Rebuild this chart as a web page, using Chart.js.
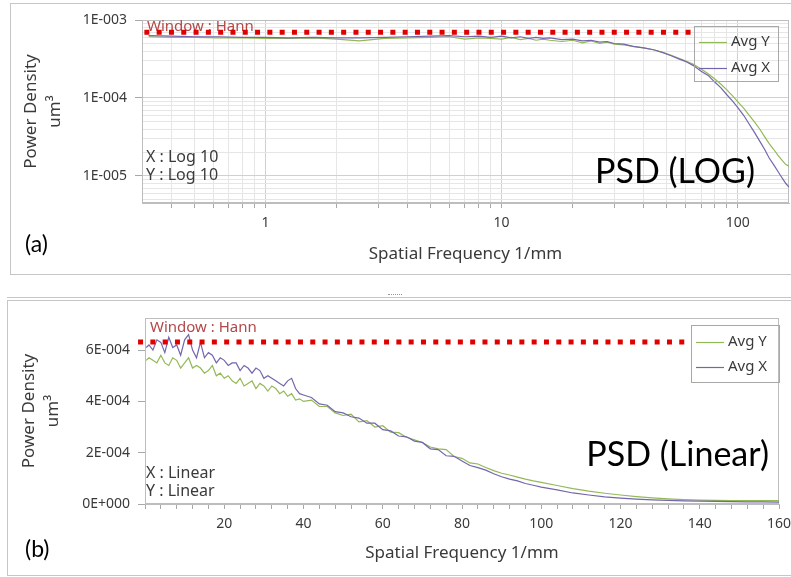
<!DOCTYPE html>
<html>
<head>
<meta charset="utf-8">
<script src="https://cdn.jsdelivr.net/npm/chart.js@4.4.0/dist/chart.umd.min.js"></script>
<style>
  body { margin: 0; background: #fff; width: 791px; height: 577px; position: relative; overflow: hidden; }
  .frame { position: absolute; border: 1px solid #c6c6c6; box-sizing: border-box; }
  .split { position: absolute; left: 388px; top: 294px; width: 14px; border-top: 1px dotted #999; }
  canvas { position: absolute; left: 0; }
</style>
</head>
<body>
<div class="frame" style="left:10px;top:3px;width:790px;height:272px;"></div>
<div class="frame" style="left:7px;top:297px;width:795px;height:4px;border-bottom:none;border-left:none;"></div>
<div class="frame" style="left:7px;top:300px;width:795px;height:276px;"></div>
<div class="split"></div>
<canvas id="logChart" width="791" height="280" style="top:0"></canvas>
<canvas id="linChart" width="791" height="287" style="top:290px"></canvas>
<script>
// Panel (a): log-log PSD, values in units of 1e-4 um^3
const logFreq = [0.32, 0.4, 0.5, 0.63, 0.8, 1, 1.25, 1.6, 2, 2.5, 3.2, 4,
  5, 6, 7, 8, 9, 10, 11, 12, 13, 14, 15, 16,
  18, 20, 22, 24, 26, 28, 30,
  33, 36, 40, 44, 48, 52, 56, 60,
  65, 70, 75, 80, 85, 90, 95, 100,
  106, 112, 118, 124, 130, 136, 142, 148, 154, 160, 165];
const logAvgY = [6.1, 6.0, 6.0, 5.9, 5.9, 5.8, 5.8, 5.9, 5.7, 5.4, 5.8, 5.9,
  6.0, 6.1, 5.7, 5.9, 5.8, 5.7, 6.0, 5.6, 5.8, 5.5, 5.7, 5.5,
  5.3, 5.5, 5.1, 5.4, 5.0, 5.2, 4.9,
  4.8, 4.6, 4.4, 4.15, 3.85, 3.55, 3.25, 3.0,
  2.7, 2.35, 2.05, 1.75, 1.5, 1.27, 1.07, 0.9,
  0.74, 0.6, 0.49, 0.4, 0.32, 0.26, 0.22, 0.185, 0.16, 0.14, 0.133];
const logAvgX = [6.3, 6.2, 6.1, 6.1, 6.0, 6.0, 5.9, 6.0, 5.9, 5.9, 6.0, 6.1,
  6.2, 6.3, 6.1, 6.2, 6.0, 6.2, 5.9, 6.1, 5.8, 6.0, 5.8, 5.9,
  5.6, 5.7, 5.4, 5.5, 5.2, 5.3, 5.0,
  4.9, 4.6, 4.4, 4.15, 3.85, 3.5, 3.2, 2.95,
  2.6, 2.2, 1.95, 1.6, 1.35, 1.1, 0.92, 0.76,
  0.6, 0.46, 0.36, 0.28, 0.22, 0.17, 0.14, 0.115, 0.095, 0.08, 0.072];
const logGridX = [0.4, 0.5, 0.6, 0.7, 0.8, 0.9, 1, 2, 3, 4, 5, 6, 7, 8, 9,
  10, 20, 30, 40, 50, 60, 70, 80, 90, 100];
const logLabelX = [1, 10, 100];
const logGridY = [5e-6, 6e-6, 7e-6, 8e-6, 9e-6, 1e-5, 2e-5, 3e-5, 4e-5, 5e-5, 6e-5, 7e-5, 8e-5, 9e-5,
  1e-4, 2e-4, 3e-4, 4e-4, 5e-4, 6e-4, 7e-4, 8e-4, 9e-4, 1e-3];
const logTickY = [1e-5, 1e-4, 1e-3];
const logTickYLabels = ['1E-005', '1E-004', '1E-003'];
const hannLogX = [0.307, 65];
const hannLogY = 6.95e-4;

// Panel (b): linear PSD, values in units of 1e-4 um^3
const linFreq = [0.3, 1, 2, 3, 4, 5, 6, 7, 8, 9, 10, 11, 12, 13, 14, 15, 16, 17, 18, 19, 20,
  21, 22, 23, 24, 25, 26, 27, 28, 29, 30, 31, 32, 33, 34, 35, 36, 37, 38, 39, 40,
  42, 44, 46, 48, 50, 52, 54, 56, 58, 60, 62, 64, 66, 68, 70, 72, 74, 76, 78, 80,
  82, 84, 86, 88, 90, 92, 94, 96, 98, 100,
  104, 108, 112, 116, 120, 124, 128, 132, 136, 140, 144, 148, 152, 156, 160];
const linAvgY = [5.6, 5.7, 5.6, 5.5, 5.8, 5.5, 5.4, 5.7, 5.6, 5.3, 5.5, 5.7, 5.3, 5.4, 5.3, 5.1, 5.2, 5.4, 5.0, 5.1, 4.9,
  5.0, 4.8, 4.7, 4.9, 4.6, 4.7, 4.8, 4.5, 4.7, 4.6, 4.4, 4.6, 4.5, 4.3, 4.4, 4.2, 4.3, 4.05, 4.1, 4.0,
  4.05, 3.8, 3.8, 3.55, 3.45, 3.5, 3.2, 3.25, 3.0, 3.05, 2.8, 2.78, 2.6, 2.5, 2.4, 2.22, 2.15, 2.12, 1.85, 1.78,
  1.6, 1.56, 1.42, 1.3, 1.2, 1.13, 1.05, 0.97, 0.9, 0.84,
  0.72, 0.6, 0.5, 0.42, 0.35, 0.29, 0.24, 0.2, 0.17, 0.15, 0.14, 0.135, 0.13, 0.13, 0.13];
const linAvgX = [6.1, 6.2, 6.0, 6.4, 6.3, 5.9, 6.5, 6.1, 6.2, 5.8, 6.4, 6.6, 6.0, 5.7, 6.3, 5.7, 5.9, 5.8, 5.5, 5.7, 5.6,
  5.4, 5.5, 5.5, 5.2, 5.4, 5.3, 5.1, 5.3, 5.2, 4.9, 5.0, 4.9, 4.8, 4.7, 4.6, 4.8, 4.9, 4.5, 4.3, 4.25,
  4.15, 3.9, 3.85, 3.6, 3.55, 3.4, 3.35, 3.15, 3.15, 2.9, 2.85, 2.65, 2.62, 2.45, 2.4, 2.15, 2.12, 1.88, 1.86, 1.68,
  1.5, 1.42, 1.32, 1.18, 1.06, 0.97, 0.9, 0.8, 0.73, 0.66,
  0.55, 0.43, 0.35, 0.28, 0.23, 0.19, 0.16, 0.14, 0.12, 0.11, 0.1, 0.09, 0.085, 0.08, 0.075];
const linLabelX = [20, 40, 60, 80, 100, 120, 140, 160];
const linTickY = [0, 2e-4, 4e-4, 6e-4];
const linTickYLabels = ['0E+000', '2E-004', '4E-004', '6E-004'];
const hannLinX = [-1.75, 136.5];
const hannLinY = 6.31e-4;

const UNIT = 1e-4;
const GREEN = '#93b957';
const PURPLE = '#7466ad';
const RED = '#e00000';
const FRAME = '#bdbdbd';
const TXT = '#3a3a3a';
const SANS = "'Noto Sans', sans-serif";

function pts(xs, ys, k) {
  return xs.map((x, i) => ({ x: x, y: ys[i] * k }));
}

function hannSet(xs, y) {
  return {
    label: 'hann', data: [{ x: xs[0], y: y }, { x: xs[1], y: y }],
    borderColor: RED, borderWidth: 5, borderDash: [5, 7.3], borderCapStyle: 'butt',
    pointRadius: 0, clip: false
  };
}

function curve(label, data, color) {
  return { label: label, data: data, borderColor: color, borderWidth: 1.2, pointRadius: 0, tension: 0 };
}

// frame, notes and legend drawn on top of the chart
const deco = {
  id: 'deco',
  beforeDatasetsDraw(chart, args, o) {
    const ctx = chart.ctx, a = chart.chartArea;
    ctx.save();
    ctx.strokeStyle = FRAME;
    ctx.lineWidth = 1;
    ctx.strokeRect(Math.round(a.left) + 0.5, Math.round(a.top) + 0.5,
      Math.round(a.right - a.left) - 1, Math.round(a.bottom - a.top) - 1);
    ctx.font = '15px ' + SANS;
    ctx.fillStyle = '#b24848';
    ctx.textBaseline = 'middle';
    ctx.fillText('Window : Hann', a.left + 5, o.hannTextY);
    ctx.restore();
  },
  afterDraw(chart, args, o) {
    const ctx = chart.ctx;
    ctx.save();
    ctx.textBaseline = 'middle';
    o.texts.forEach(t => {
      ctx.font = t.font;
      ctx.fillStyle = t.color || TXT;
      ctx.textAlign = t.align || 'left';
      ctx.fillText(t.text, t.x, t.y);
    });
    // legend box
    const L = o.legend;
    ctx.strokeStyle = '#a8a8a8';
    ctx.lineWidth = 1;
    ctx.strokeRect(L.x + 0.5, L.y + 0.5, L.w, L.h);
    ctx.font = '15px ' + SANS;
    ctx.textAlign = 'left';
    ctx.fillStyle = TXT;
    const items = chart.data.datasets.filter(d => d.label !== 'hann');
    items.sort((p, q) => (p.label < q.label ? 1 : -1));
    items.forEach((d, i) => {
      const y = L.y + L.rowTop + i * L.row;
      ctx.strokeStyle = d.borderColor;
      ctx.lineWidth = 1.2;
      ctx.beginPath();
      ctx.moveTo(L.x + 5, y + 0.5);
      ctx.lineTo(L.x + 33, y + 0.5);
      ctx.stroke();
      ctx.fillText(d.label, L.x + 37, y);
    });
    ctx.restore();
  }
};

function yTitle(pad) {
  return {
    display: true, text: ['Power Density', 'um³'], color: TXT,
    font: { family: SANS, size: 17, lineHeight: 24 / 17 }, padding: { top: pad, bottom: 0 }
  };
}

function xTitle(pad) {
  return {
    display: true, text: 'Spatial Frequency 1/mm', color: TXT,
    font: { family: SANS, size: 17 }, padding: { top: 0, bottom: pad }
  };
}

// (a) log-log
new Chart(document.getElementById('logChart'), {
  type: 'line',
  data: {
    datasets: [
      hannSet(hannLogX, hannLogY),
      curve('Avg X', pts(logFreq, logAvgX, UNIT), PURPLE),
      curve('Avg Y', pts(logFreq, logAvgY, UNIT), GREEN)
    ]
  },
  options: {
    responsive: false, animation: false, devicePixelRatio: 1,
    layout: { padding: { left: 0, top: 20, right: 2, bottom: 0 } },
    plugins: {
      legend: { display: false }, tooltip: { enabled: false },
      deco: {
        hannTextY: 27,
        texts: [
          { text: 'X : Log 10', x: 146, y: 157, font: '16px ' + SANS },
          { text: 'Y : Log 10', x: 146, y: 175, font: '16px ' + SANS },
          { text: 'PSD (LOG)', x: 755, y: 172, font: '34px Lato, sans-serif', color: '#000', align: 'right' },
          { text: '(a)', x: 25, y: 245, font: '23px Lato, sans-serif', color: '#000' }
        ],
        legend: { x: 694, y: 26, w: 84, h: 55, rowTop: 16, row: 26 }
      }
    },
    scales: {
      x: {
        type: 'logarithmic', min: 0.32, max: 165,
        afterBuildTicks: s => { s.ticks = logGridX.map(v => ({ value: v })); },
        afterFit: s => { s.height = 77; s.paddingLeft = 0; s.paddingRight = 0; },
        ticks: {
          autoSkip: false, maxRotation: 0, padding: 7, color: TXT, font: { family: SANS, size: 14 },
          callback: v => (logLabelX.includes(v) ? String(v) : '')
        },
        grid: {
          color: c => (c.tick && logLabelX.includes(c.tick.value) ? '#d0d0d0' : '#e6e6e6'),
          tickColor: '#a8a8a8', tickLength: 5
        },
        border: { color: FRAME },
        title: xTitle(16)
      },
      y: {
        type: 'logarithmic', min: 4.5e-6, max: 1e-3,
        afterBuildTicks: s => { s.ticks = logGridY.map(v => ({ value: v })); },
        afterFit: s => { s.width = 142; s.paddingTop = 0; s.paddingBottom = 0; },
        ticks: {
          autoSkip: false, padding: 8, color: TXT, font: { family: SANS, size: 14 },
          callback: v => { const i = logTickY.indexOf(v); return i < 0 ? '' : logTickYLabels[i]; }
        },
        grid: {
          color: c => (c.tick && logTickY.includes(c.tick.value) ? '#d0d0d0' : '#e6e6e6'),
          tickColor: c => (c.tick && logTickY.includes(c.tick.value) ? '#a8a8a8' : 'rgba(0,0,0,0)'),
          tickLength: 7
        },
        border: { color: FRAME },
        title: yTitle(19)
      }
    }
  },
  plugins: [deco]
});

// (b) linear
new Chart(document.getElementById('linChart'), {
  type: 'line',
  data: {
    datasets: [
      hannSet(hannLinX, hannLinY),
      curve('Avg X', pts(linFreq, linAvgX, UNIT), PURPLE),
      curve('Avg Y', pts(linFreq, linAvgY, UNIT), GREEN)
    ]
  },
  options: {
    responsive: false, animation: false, devicePixelRatio: 1,
    layout: { padding: { left: 0, top: 28, right: 12, bottom: 0 } },
    plugins: {
      legend: { display: false }, tooltip: { enabled: false },
      deco: {
        hannTextY: 38,
        texts: [
          { text: 'X : Linear', x: 146, y: 183, font: '16px ' + SANS },
          { text: 'Y : Linear', x: 146, y: 201, font: '16px ' + SANS },
          { text: 'PSD (Linear)', x: 769, y: 165, font: '34px Lato, sans-serif', color: '#000', align: 'right' },
          { text: '(b)', x: 25, y: 260, font: '23px Lato, sans-serif', color: '#000' }
        ],
        legend: { x: 691, y: 35, w: 88, h: 57, rowTop: 17, row: 25 }
      }
    },
    scales: {
      x: {
        type: 'linear', min: 0, max: 160,
        afterFit: s => { s.height = 73; s.paddingLeft = 0; s.paddingRight = 0; },
        ticks: {
          stepSize: 4, autoSkip: false, maxRotation: 0, padding: 7, color: TXT, font: { family: SANS, size: 14 },
          callback: v => (linLabelX.includes(v) ? String(v) : '')
        },
        grid: { drawOnChartArea: false, tickColor: '#a8a8a8', tickLength: 5 },
        border: { color: FRAME },
        title: xTitle(14)
      },
      y: {
        type: 'linear', min: 0, max: 7.25e-4,
        afterBuildTicks: s => { s.ticks = linTickY.map(v => ({ value: v })); },
        afterFit: s => { s.width = 145; s.paddingTop = 0; s.paddingBottom = 0; },
        ticks: {
          autoSkip: false, padding: 8, color: TXT, font: { family: SANS, size: 14 },
          callback: v => { const i = linTickY.indexOf(v); return i < 0 ? '' : linTickYLabels[i]; }
        },
        grid: { drawOnChartArea: false, tickColor: '#a8a8a8', tickLength: 7 },
        border: { color: FRAME },
        title: yTitle(17)
      }
    }
  },
  plugins: [deco]
});
</script>
</body>
</html>
